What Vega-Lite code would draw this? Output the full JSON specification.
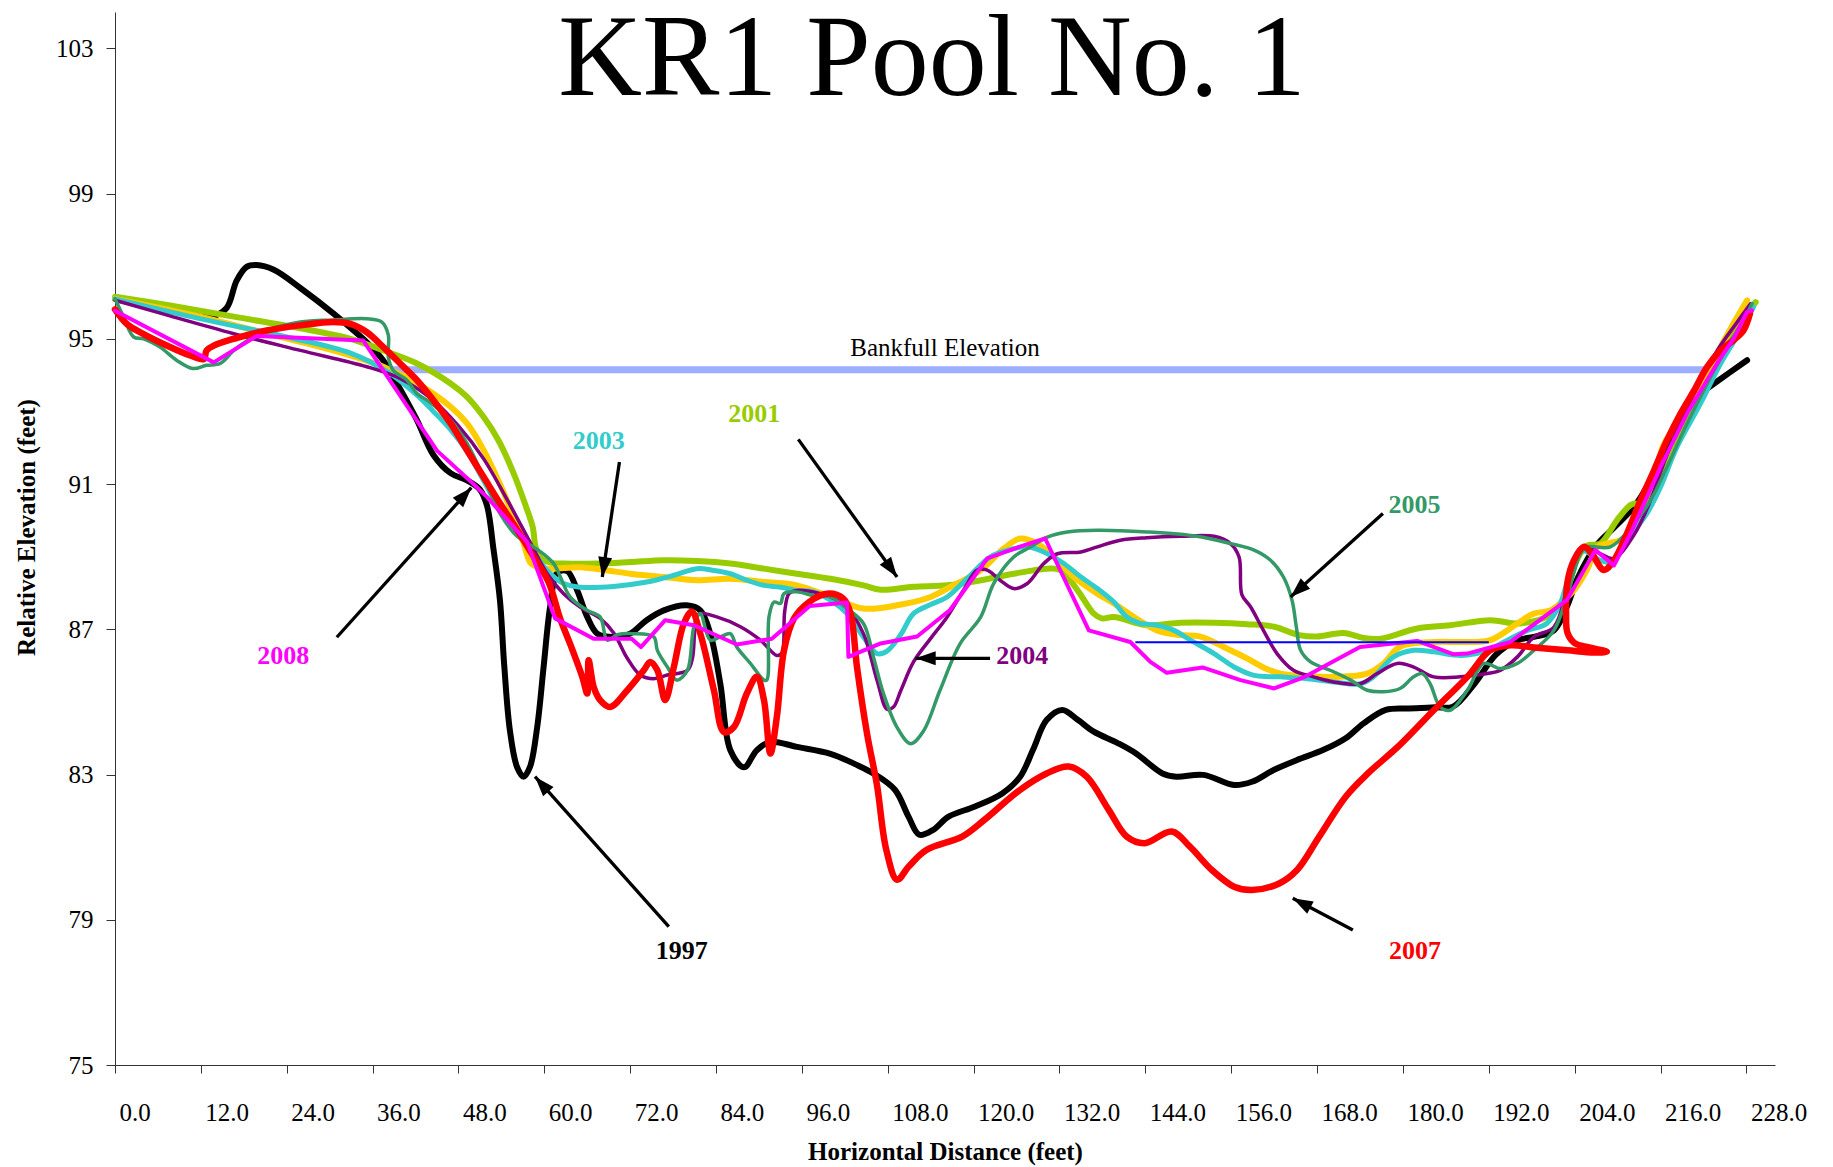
{
"$schema":"https://vega.github.io/schema/vega-lite/v6.json",
"autosize":{"type":"none"},
"padding":{"left":115,"top":12,"right":58,"bottom":102},
"width":1660,"height":1053,
"background":"white",
"config":{"view":{"stroke":null},"axis":{"grid":false}},
"title":{"text":"KR1 Pool No. 1","font":"Liberation Serif","fontSize":116,"fontWeight":"normal","color":"#000000","anchor":"middle","frame":"group","offset":-107,"dx":-13,"baseline":"top"},
"datasets":{
"lines":[
{"s":"bank","i":0,"x":38,"y":94.15},{"s":"bank","i":1,"x":222.5,"y":94.15},
{"s":"blue","i":0,"x":142.6,"y":86.64},{"s":"blue","i":1,"x":192.0,"y":86.64},
{"s":"1997","i":0,"x":0,"y":96.1},{"s":"1997","i":1,"x":7,"y":95.8},{"s":"1997","i":2,"x":13.5,"y":95.62},{"s":"1997","i":3,"x":15.6,"y":95.85},{"s":"1997","i":4,"x":17,"y":96.6},{"s":"1997","i":5,"x":18.4,"y":96.98},{"s":"1997","i":6,"x":19.8,"y":97.03},{"s":"1997","i":7,"x":22.2,"y":96.9},{"s":"1997","i":8,"x":25.9,"y":96.4},{"s":"1997","i":9,"x":30.5,"y":95.7},{"s":"1997","i":10,"x":35.2,"y":94.9},{"s":"1997","i":11,"x":37.5,"y":94.4},{"s":"1997","i":12,"x":39.9,"y":93.6},{"s":"1997","i":13,"x":42.2,"y":92.76},{"s":"1997","i":14,"x":44.5,"y":91.8},{"s":"1997","i":15,"x":46.9,"y":91.3},{"s":"1997","i":16,"x":49.2,"y":91.1},{"s":"1997","i":17,"x":51,"y":90.85},{"s":"1997","i":18,"x":52,"y":90.4},{"s":"1997","i":19,"x":52.9,"y":89.2},{"s":"1997","i":20,"x":53.8,"y":87.8},{"s":"1997","i":21,"x":54.4,"y":86.0},{"s":"1997","i":22,"x":55.2,"y":84.2},{"s":"1997","i":23,"x":56.2,"y":83.2},{"s":"1997","i":24,"x":57.1,"y":82.94},{"s":"1997","i":25,"x":58,"y":83.21},{"s":"1997","i":26,"x":59,"y":84.3},{"s":"1997","i":27,"x":59.9,"y":85.96},{"s":"1997","i":28,"x":60.8,"y":87.6},{"s":"1997","i":29,"x":61.8,"y":88.55},{"s":"1997","i":30,"x":63.2,"y":88.6},{"s":"1997","i":31,"x":64.6,"y":88.07},{"s":"1997","i":32,"x":66,"y":87.34},{"s":"1997","i":33,"x":67.4,"y":86.88},{"s":"1997","i":34,"x":69.7,"y":86.79},{"s":"1997","i":35,"x":72,"y":86.88},{"s":"1997","i":36,"x":74.3,"y":87.25},{"s":"1997","i":37,"x":76.7,"y":87.52},{"s":"1997","i":38,"x":79.9,"y":87.66},{"s":"1997","i":39,"x":81.8,"y":87.52},{"s":"1997","i":40,"x":83.2,"y":86.88},{"s":"1997","i":41,"x":84.6,"y":85.5},{"s":"1997","i":42,"x":86,"y":83.67},{"s":"1997","i":43,"x":87.9,"y":83.2},{"s":"1997","i":44,"x":89.7,"y":83.67},{"s":"1997","i":45,"x":91.6,"y":83.9},{"s":"1997","i":46,"x":95.3,"y":83.76},{"s":"1997","i":47,"x":100,"y":83.57},{"s":"1997","i":48,"x":103.5,"y":83.28},{"s":"1997","i":49,"x":106,"y":83.03},{"s":"1997","i":50,"x":109,"y":82.58},{"s":"1997","i":51,"x":110.9,"y":81.84},{"s":"1997","i":52,"x":112.4,"y":81.34},{"s":"1997","i":53,"x":114.3,"y":81.47},{"s":"1997","i":54,"x":116.5,"y":81.84},{"s":"1997","i":55,"x":120.2,"y":82.12},{"s":"1997","i":56,"x":124,"y":82.48},{"s":"1997","i":57,"x":126.5,"y":82.94},{"s":"1997","i":58,"x":128.3,"y":83.68},{"s":"1997","i":59,"x":130.2,"y":84.5},{"s":"1997","i":60,"x":132.4,"y":84.78},{"s":"1997","i":61,"x":134.6,"y":84.5},{"s":"1997","i":62,"x":136.8,"y":84.18},{"s":"1997","i":63,"x":140.2,"y":83.86},{"s":"1997","i":64,"x":142.7,"y":83.58},{"s":"1997","i":65,"x":146.4,"y":83.03},{"s":"1997","i":66,"x":148.3,"y":82.94},{"s":"1997","i":67,"x":152.1,"y":82.99},{"s":"1997","i":68,"x":156.4,"y":82.71},{"s":"1997","i":69,"x":158.9,"y":82.8},{"s":"1997","i":70,"x":162,"y":83.13},{"s":"1997","i":71,"x":165.2,"y":83.4},{"s":"1997","i":72,"x":168.9,"y":83.68},{"s":"1997","i":73,"x":172,"y":84.0},{"s":"1997","i":74,"x":174.5,"y":84.41},{"s":"1997","i":75,"x":177.6,"y":84.78},{"s":"1997","i":76,"x":180.8,"y":84.82},{"s":"1997","i":77,"x":184.5,"y":84.85},{"s":"1997","i":78,"x":187,"y":84.87},{"s":"1997","i":79,"x":190,"y":85.5},{"s":"1997","i":80,"x":193,"y":86.3},{"s":"1997","i":81,"x":196,"y":86.7},{"s":"1997","i":82,"x":198.3,"y":86.79},{"s":"1997","i":83,"x":201.1,"y":86.97},{"s":"1997","i":84,"x":202.9,"y":87.62},{"s":"1997","i":85,"x":204.4,"y":88.4},{"s":"1997","i":86,"x":207,"y":89.3},{"s":"1997","i":87,"x":209.5,"y":89.8},{"s":"1997","i":88,"x":212.3,"y":90.37},{"s":"1997","i":89,"x":214.1,"y":90.92},{"s":"1997","i":90,"x":216,"y":91.65},{"s":"1997","i":91,"x":217.9,"y":92.48},{"s":"1997","i":92,"x":219.7,"y":93.22},{"s":"1997","i":93,"x":221.6,"y":93.5},{"s":"1997","i":94,"x":223.5,"y":93.77},{"s":"1997","i":95,"x":228.1,"y":94.41},
{"s":"2001","i":0,"x":0,"y":96.16},{"s":"2001","i":1,"x":7.3,"y":95.93},{"s":"2001","i":2,"x":16.6,"y":95.61},{"s":"2001","i":3,"x":25.9,"y":95.29},{"s":"2001","i":4,"x":32.9,"y":95.0},{"s":"2001","i":5,"x":37.5,"y":94.68},{"s":"2001","i":6,"x":42.2,"y":94.32},{"s":"2001","i":7,"x":46.9,"y":93.77},{"s":"2001","i":8,"x":49.2,"y":93.4},{"s":"2001","i":9,"x":51.5,"y":92.85},{"s":"2001","i":10,"x":53.6,"y":92.2},{"s":"2001","i":11,"x":55.7,"y":91.3},{"s":"2001","i":12,"x":57.4,"y":90.4},{"s":"2001","i":13,"x":58.4,"y":89.8},{"s":"2001","i":14,"x":58.8,"y":89.25},{"s":"2001","i":15,"x":59.6,"y":88.95},{"s":"2001","i":16,"x":61,"y":88.83},{"s":"2001","i":17,"x":62.7,"y":88.81},{"s":"2001","i":18,"x":67.4,"y":88.81},{"s":"2001","i":19,"x":72,"y":88.85},{"s":"2001","i":20,"x":76.7,"y":88.9},{"s":"2001","i":21,"x":81.3,"y":88.88},{"s":"2001","i":22,"x":86,"y":88.81},{"s":"2001","i":23,"x":90.7,"y":88.67},{"s":"2001","i":24,"x":95.3,"y":88.53},{"s":"2001","i":25,"x":100,"y":88.39},{"s":"2001","i":26,"x":104.6,"y":88.21},{"s":"2001","i":27,"x":107,"y":88.09},{"s":"2001","i":28,"x":111.6,"y":88.17},{"s":"2001","i":29,"x":116.3,"y":88.21},{"s":"2001","i":30,"x":121,"y":88.35},{"s":"2001","i":31,"x":125.6,"y":88.53},{"s":"2001","i":32,"x":130.3,"y":88.67},{"s":"2001","i":33,"x":132.1,"y":88.63},{"s":"2001","i":34,"x":134.5,"y":88.08},{"s":"2001","i":35,"x":136.8,"y":87.43},{"s":"2001","i":36,"x":137.9,"y":87.3},{"s":"2001","i":37,"x":139.6,"y":87.34},{"s":"2001","i":38,"x":144.2,"y":87.11},{"s":"2001","i":39,"x":148.9,"y":87.18},{"s":"2001","i":40,"x":153.6,"y":87.18},{"s":"2001","i":41,"x":158.2,"y":87.14},{"s":"2001","i":42,"x":162,"y":87.07},{"s":"2001","i":43,"x":165.5,"y":86.84},{"s":"2001","i":44,"x":168,"y":86.8},{"s":"2001","i":45,"x":171.7,"y":86.9},{"s":"2001","i":46,"x":174.5,"y":86.76},{"s":"2001","i":47,"x":176.9,"y":86.74},{"s":"2001","i":48,"x":182,"y":87.02},{"s":"2001","i":49,"x":186.6,"y":87.11},{"s":"2001","i":50,"x":192.2,"y":87.25},{"s":"2001","i":51,"x":196.4,"y":87.16},{"s":"2001","i":52,"x":200.6,"y":87.4},{"s":"2001","i":53,"x":202.3,"y":87.8},{"s":"2001","i":54,"x":204.3,"y":88.9},{"s":"2001","i":55,"x":205.7,"y":89.3},{"s":"2001","i":56,"x":207.6,"y":89.36},{"s":"2001","i":57,"x":209.9,"y":90.0},{"s":"2001","i":58,"x":211.8,"y":90.42},{"s":"2001","i":59,"x":212.6,"y":90.46},{"s":"2001","i":60,"x":213.4,"y":90.25},{"s":"2001","i":61,"x":215.5,"y":90.92},{"s":"2001","i":62,"x":217.9,"y":91.93},{"s":"2001","i":63,"x":220.7,"y":93.12},{"s":"2001","i":64,"x":223.5,"y":94.22},{"s":"2001","i":65,"x":226.2,"y":95.14},{"s":"2001","i":66,"x":228.1,"y":95.69},{"s":"2001","i":67,"x":229.3,"y":96.01},
{"s":"2002","i":0,"x":0,"y":96.1},{"s":"2002","i":1,"x":11.9,"y":95.61},{"s":"2002","i":2,"x":21.2,"y":95.14},{"s":"2002","i":3,"x":30.5,"y":94.68},{"s":"2002","i":4,"x":37.5,"y":94.23},{"s":"2002","i":5,"x":42.2,"y":93.77},{"s":"2002","i":6,"x":46.9,"y":93.13},{"s":"2002","i":7,"x":49.2,"y":92.67},{"s":"2002","i":8,"x":51.5,"y":91.94},{"s":"2002","i":9,"x":53.8,"y":91.0},{"s":"2002","i":10,"x":55.7,"y":90.1},{"s":"2002","i":11,"x":57.1,"y":89.38},{"s":"2002","i":12,"x":58.2,"y":88.8},{"s":"2002","i":13,"x":60.4,"y":88.67},{"s":"2002","i":14,"x":65,"y":88.71},{"s":"2002","i":15,"x":68.8,"y":88.62},{"s":"2002","i":16,"x":72,"y":88.53},{"s":"2002","i":17,"x":76.7,"y":88.44},{"s":"2002","i":18,"x":81.3,"y":88.35},{"s":"2002","i":19,"x":86,"y":88.39},{"s":"2002","i":20,"x":90.7,"y":88.3},{"s":"2002","i":21,"x":95.3,"y":88.21},{"s":"2002","i":22,"x":100,"y":87.89},{"s":"2002","i":23,"x":104.6,"y":87.57},{"s":"2002","i":24,"x":109.3,"y":87.66},{"s":"2002","i":25,"x":114,"y":87.89},{"s":"2002","i":26,"x":116.3,"y":88.12},{"s":"2002","i":27,"x":121,"y":88.63},{"s":"2002","i":28,"x":124.2,"y":89.22},{"s":"2002","i":29,"x":126.5,"y":89.5},{"s":"2002","i":30,"x":128.9,"y":89.36},{"s":"2002","i":31,"x":131.7,"y":88.9},{"s":"2002","i":32,"x":134,"y":88.44},{"s":"2002","i":33,"x":137.3,"y":87.98},{"s":"2002","i":34,"x":139.6,"y":87.71},{"s":"2002","i":35,"x":142.4,"y":87.34},{"s":"2002","i":36,"x":145.6,"y":86.97},{"s":"2002","i":37,"x":148.9,"y":86.84},{"s":"2002","i":38,"x":151.7,"y":86.8},{"s":"2002","i":39,"x":155.9,"y":86.42},{"s":"2002","i":40,"x":158.2,"y":86.2},{"s":"2002","i":41,"x":160.5,"y":85.95},{"s":"2002","i":42,"x":162.9,"y":85.78},{"s":"2002","i":43,"x":167.5,"y":85.7},{"s":"2002","i":44,"x":170.3,"y":85.69},{"s":"2002","i":45,"x":175,"y":85.78},{"s":"2002","i":46,"x":177.3,"y":86.06},{"s":"2002","i":47,"x":179.6,"y":86.52},{"s":"2002","i":48,"x":184.3,"y":86.65},{"s":"2002","i":49,"x":189,"y":86.65},{"s":"2002","i":50,"x":192.2,"y":86.7},{"s":"2002","i":51,"x":196,"y":87.16},{"s":"2002","i":52,"x":198.3,"y":87.43},{"s":"2002","i":53,"x":200.6,"y":87.52},{"s":"2002","i":54,"x":202.5,"y":87.8},{"s":"2002","i":55,"x":204,"y":88.1},{"s":"2002","i":56,"x":205.7,"y":88.63},{"s":"2002","i":57,"x":207.2,"y":89.27},{"s":"2002","i":58,"x":208.5,"y":89.36},{"s":"2002","i":59,"x":210.4,"y":89.45},{"s":"2002","i":60,"x":211.8,"y":89.63},{"s":"2002","i":61,"x":213.2,"y":90.37},{"s":"2002","i":62,"x":215.1,"y":91.2},{"s":"2002","i":63,"x":216.5,"y":92.11},{"s":"2002","i":64,"x":218.8,"y":92.76},{"s":"2002","i":65,"x":221.6,"y":93.76},{"s":"2002","i":66,"x":223.9,"y":94.59},{"s":"2002","i":67,"x":226.2,"y":95.42},{"s":"2002","i":68,"x":228.1,"y":96.06},
{"s":"2003","i":0,"x":0,"y":96.1},{"s":"2003","i":1,"x":12,"y":95.55},{"s":"2003","i":2,"x":24,"y":95.05},{"s":"2003","i":3,"x":33,"y":94.6},{"s":"2003","i":4,"x":38,"y":94.1},{"s":"2003","i":5,"x":42.2,"y":93.45},{"s":"2003","i":6,"x":44.5,"y":93.0},{"s":"2003","i":7,"x":46.9,"y":92.5},{"s":"2003","i":8,"x":49.2,"y":91.9},{"s":"2003","i":9,"x":51.5,"y":91.1},{"s":"2003","i":10,"x":53.8,"y":90.3},{"s":"2003","i":11,"x":56.2,"y":89.7},{"s":"2003","i":12,"x":58,"y":89.27},{"s":"2003","i":13,"x":60.4,"y":88.62},{"s":"2003","i":14,"x":62.7,"y":88.26},{"s":"2003","i":15,"x":65,"y":88.16},{"s":"2003","i":16,"x":69.7,"y":88.18},{"s":"2003","i":17,"x":74.3,"y":88.3},{"s":"2003","i":18,"x":78,"y":88.48},{"s":"2003","i":19,"x":81.3,"y":88.67},{"s":"2003","i":20,"x":83.7,"y":88.62},{"s":"2003","i":21,"x":86,"y":88.53},{"s":"2003","i":22,"x":88.3,"y":88.35},{"s":"2003","i":23,"x":90.7,"y":88.21},{"s":"2003","i":24,"x":93,"y":88.16},{"s":"2003","i":25,"x":95.3,"y":88.07},{"s":"2003","i":26,"x":97.6,"y":88.03},{"s":"2003","i":27,"x":100,"y":87.8},{"s":"2003","i":28,"x":102.3,"y":87.43},{"s":"2003","i":29,"x":104.6,"y":86.79},{"s":"2003","i":30,"x":106.5,"y":86.33},{"s":"2003","i":31,"x":107.9,"y":86.4},{"s":"2003","i":32,"x":109.8,"y":86.85},{"s":"2003","i":33,"x":111.6,"y":87.43},{"s":"2003","i":34,"x":114,"y":87.68},{"s":"2003","i":35,"x":116.3,"y":87.89},{"s":"2003","i":36,"x":119.1,"y":88.4},{"s":"2003","i":37,"x":122.3,"y":88.99},{"s":"2003","i":38,"x":125.6,"y":89.22},{"s":"2003","i":39,"x":127.5,"y":89.27},{"s":"2003","i":40,"x":129.8,"y":89.13},{"s":"2003","i":41,"x":132.6,"y":88.81},{"s":"2003","i":42,"x":135,"y":88.44},{"s":"2003","i":43,"x":137.3,"y":88.12},{"s":"2003","i":44,"x":139.6,"y":87.75},{"s":"2003","i":45,"x":141.4,"y":87.34},{"s":"2003","i":46,"x":143.3,"y":87.16},{"s":"2003","i":47,"x":145.6,"y":87.11},{"s":"2003","i":48,"x":148,"y":86.97},{"s":"2003","i":49,"x":150.3,"y":86.7},{"s":"2003","i":50,"x":153.6,"y":86.33},{"s":"2003","i":51,"x":156.4,"y":85.96},{"s":"2003","i":52,"x":159.2,"y":85.73},{"s":"2003","i":53,"x":162.9,"y":85.69},{"s":"2003","i":54,"x":166.6,"y":85.64},{"s":"2003","i":55,"x":170.3,"y":85.55},{"s":"2003","i":56,"x":174.1,"y":85.5},{"s":"2003","i":57,"x":175.9,"y":85.69},{"s":"2003","i":58,"x":178.7,"y":86.24},{"s":"2003","i":59,"x":181.5,"y":86.42},{"s":"2003","i":60,"x":184.3,"y":86.38},{"s":"2003","i":61,"x":187.1,"y":86.29},{"s":"2003","i":62,"x":189,"y":86.29},{"s":"2003","i":63,"x":191.8,"y":86.42},{"s":"2003","i":64,"x":194.6,"y":86.7},{"s":"2003","i":65,"x":197.4,"y":86.97},{"s":"2003","i":66,"x":200.1,"y":87.16},{"s":"2003","i":67,"x":202,"y":87.71},{"s":"2003","i":68,"x":202.9,"y":88.26},{"s":"2003","i":69,"x":204.8,"y":89.18},{"s":"2003","i":70,"x":207.6,"y":88.9},{"s":"2003","i":71,"x":209.3,"y":88.85},{"s":"2003","i":72,"x":211.3,"y":89.45},{"s":"2003","i":73,"x":214.1,"y":90.19},{"s":"2003","i":74,"x":216,"y":90.92},{"s":"2003","i":75,"x":218.3,"y":92.02},{"s":"2003","i":76,"x":221.6,"y":93.22},{"s":"2003","i":77,"x":224.4,"y":94.32},{"s":"2003","i":78,"x":227.2,"y":95.23},{"s":"2003","i":79,"x":229,"y":95.88},
{"s":"2004","i":0,"x":0,"y":96.06},{"s":"2004","i":1,"x":7.3,"y":95.65},{"s":"2004","i":2,"x":16.6,"y":95.14},{"s":"2004","i":3,"x":25.9,"y":94.68},{"s":"2004","i":4,"x":35.2,"y":94.23},{"s":"2004","i":5,"x":39.9,"y":93.9},{"s":"2004","i":6,"x":44.5,"y":93.3},{"s":"2004","i":7,"x":48,"y":92.6},{"s":"2004","i":8,"x":51.5,"y":91.7},{"s":"2004","i":9,"x":55,"y":90.5},{"s":"2004","i":10,"x":58,"y":89.4},{"s":"2004","i":11,"x":60.5,"y":88.5},{"s":"2004","i":12,"x":62.7,"y":87.98},{"s":"2004","i":13,"x":65,"y":87.61},{"s":"2004","i":14,"x":67.8,"y":87.3},{"s":"2004","i":15,"x":69.7,"y":86.9},{"s":"2004","i":16,"x":71.6,"y":86.2},{"s":"2004","i":17,"x":73.4,"y":85.74},{"s":"2004","i":18,"x":75.3,"y":85.64},{"s":"2004","i":19,"x":77.2,"y":85.74},{"s":"2004","i":20,"x":80,"y":85.87},{"s":"2004","i":21,"x":80.7,"y":86.2},{"s":"2004","i":22,"x":81.1,"y":87.1},{"s":"2004","i":23,"x":81.6,"y":87.43},{"s":"2004","i":24,"x":84.1,"y":87.34},{"s":"2004","i":25,"x":87.4,"y":87.07},{"s":"2004","i":26,"x":90.2,"y":86.7},{"s":"2004","i":27,"x":92.5,"y":86.28},{"s":"2004","i":28,"x":93.2,"y":86.35},{"s":"2004","i":29,"x":93.6,"y":87.5},{"s":"2004","i":30,"x":94.2,"y":87.98},{"s":"2004","i":31,"x":95.3,"y":88.07},{"s":"2004","i":32,"x":97.6,"y":88.03},{"s":"2004","i":33,"x":100,"y":87.89},{"s":"2004","i":34,"x":102.3,"y":87.61},{"s":"2004","i":35,"x":104.6,"y":86.88},{"s":"2004","i":36,"x":106.5,"y":85.6},{"s":"2004","i":37,"x":107.9,"y":84.8},{"s":"2004","i":38,"x":108.8,"y":84.86},{"s":"2004","i":39,"x":109.8,"y":85.3},{"s":"2004","i":40,"x":111.6,"y":86.1},{"s":"2004","i":41,"x":114,"y":86.75},{"s":"2004","i":42,"x":116.3,"y":87.34},{"s":"2004","i":43,"x":118.6,"y":88.08},{"s":"2004","i":44,"x":120.5,"y":88.63},{"s":"2004","i":45,"x":121.9,"y":88.63},{"s":"2004","i":46,"x":123.7,"y":88.35},{"s":"2004","i":47,"x":125.6,"y":88.12},{"s":"2004","i":48,"x":127.5,"y":88.26},{"s":"2004","i":49,"x":129.8,"y":88.81},{"s":"2004","i":50,"x":131.7,"y":89.08},{"s":"2004","i":51,"x":135,"y":89.13},{"s":"2004","i":52,"x":137.3,"y":89.27},{"s":"2004","i":53,"x":140.5,"y":89.45},{"s":"2004","i":54,"x":144.2,"y":89.52},{"s":"2004","i":55,"x":148.9,"y":89.56},{"s":"2004","i":56,"x":153.6,"y":89.56},{"s":"2004","i":57,"x":155.9,"y":89.36},{"s":"2004","i":58,"x":157.1,"y":88.99},{"s":"2004","i":59,"x":157.5,"y":87.95},{"s":"2004","i":60,"x":158.7,"y":87.62},{"s":"2004","i":61,"x":160.5,"y":86.97},{"s":"2004","i":62,"x":162.4,"y":86.33},{"s":"2004","i":63,"x":164.7,"y":85.87},{"s":"2004","i":64,"x":167.5,"y":85.69},{"s":"2004","i":65,"x":170.3,"y":85.55},{"s":"2004","i":66,"x":174,"y":85.5},{"s":"2004","i":67,"x":176.4,"y":85.78},{"s":"2004","i":68,"x":179.2,"y":86.06},{"s":"2004","i":69,"x":181.5,"y":85.96},{"s":"2004","i":70,"x":184.3,"y":85.69},{"s":"2004","i":71,"x":188,"y":85.69},{"s":"2004","i":72,"x":191.8,"y":85.78},{"s":"2004","i":73,"x":193.6,"y":85.87},{"s":"2004","i":74,"x":196,"y":86.24},{"s":"2004","i":75,"x":198.3,"y":86.79},{"s":"2004","i":76,"x":201.1,"y":87.06},{"s":"2004","i":77,"x":202.9,"y":88.08},{"s":"2004","i":78,"x":204.3,"y":89.08},{"s":"2004","i":79,"x":205.5,"y":89.27},{"s":"2004","i":80,"x":207.6,"y":89.08},{"s":"2004","i":81,"x":209.5,"y":88.95},{"s":"2004","i":82,"x":212.3,"y":89.6},{"s":"2004","i":83,"x":214.5,"y":90.5},{"s":"2004","i":84,"x":216.5,"y":91.6},{"s":"2004","i":85,"x":219,"y":92.8},{"s":"2004","i":86,"x":221.5,"y":93.8},{"s":"2004","i":87,"x":224,"y":94.7},{"s":"2004","i":88,"x":226.5,"y":95.4},{"s":"2004","i":89,"x":228.6,"y":95.97},
{"s":"2005","i":0,"x":0,"y":96.1},{"s":"2005","i":1,"x":1.2,"y":95.6},{"s":"2005","i":2,"x":2.6,"y":95.05},{"s":"2005","i":3,"x":4,"y":95.0},{"s":"2005","i":4,"x":6.3,"y":94.77},{"s":"2005","i":5,"x":8.6,"y":94.41},{"s":"2005","i":6,"x":10.9,"y":94.18},{"s":"2005","i":7,"x":12.8,"y":94.27},{"s":"2005","i":8,"x":14.7,"y":94.32},{"s":"2005","i":9,"x":16.6,"y":94.68},{"s":"2005","i":10,"x":18.9,"y":95.0},{"s":"2005","i":11,"x":21.2,"y":95.23},{"s":"2005","i":12,"x":25.9,"y":95.46},{"s":"2005","i":13,"x":30.5,"y":95.52},{"s":"2005","i":14,"x":35.2,"y":95.55},{"s":"2005","i":15,"x":37.3,"y":95.46},{"s":"2005","i":16,"x":38.2,"y":95.1},{"s":"2005","i":17,"x":38.2,"y":94.5},{"s":"2005","i":18,"x":38.9,"y":94.13},{"s":"2005","i":19,"x":40.8,"y":93.86},{"s":"2005","i":20,"x":42.2,"y":93.49},{"s":"2005","i":21,"x":43.6,"y":93.31},{"s":"2005","i":22,"x":46.9,"y":92.76},{"s":"2005","i":23,"x":49.2,"y":92.12},{"s":"2005","i":24,"x":51.5,"y":91.2},{"s":"2005","i":25,"x":53.8,"y":90.19},{"s":"2005","i":26,"x":56.2,"y":89.56},{"s":"2005","i":27,"x":59,"y":89.2},{"s":"2005","i":28,"x":61.3,"y":88.81},{"s":"2005","i":29,"x":63.6,"y":87.89},{"s":"2005","i":30,"x":66,"y":87.52},{"s":"2005","i":31,"x":67.8,"y":87.34},{"s":"2005","i":32,"x":68.8,"y":86.7},{"s":"2005","i":33,"x":70.2,"y":86.85},{"s":"2005","i":34,"x":72.5,"y":86.88},{"s":"2005","i":35,"x":75.3,"y":86.79},{"s":"2005","i":36,"x":75.8,"y":86.42},{"s":"2005","i":37,"x":77.2,"y":85.96},{"s":"2005","i":38,"x":78.5,"y":85.6},{"s":"2005","i":39,"x":80,"y":85.87},{"s":"2005","i":40,"x":80.9,"y":87.07},{"s":"2005","i":41,"x":81.8,"y":87.43},{"s":"2005","i":42,"x":83.2,"y":86.7},{"s":"2005","i":43,"x":84.6,"y":86.79},{"s":"2005","i":44,"x":86,"y":86.88},{"s":"2005","i":45,"x":86.9,"y":86.51},{"s":"2005","i":46,"x":88.8,"y":86.06},{"s":"2005","i":47,"x":90.7,"y":85.6},{"s":"2005","i":48,"x":91.1,"y":85.6},{"s":"2005","i":49,"x":91.4,"y":87.34},{"s":"2005","i":50,"x":92.1,"y":87.75},{"s":"2005","i":51,"x":93,"y":87.71},{"s":"2005","i":52,"x":93.5,"y":87.98},{"s":"2005","i":53,"x":95.3,"y":88.03},{"s":"2005","i":54,"x":97.6,"y":87.93},{"s":"2005","i":55,"x":100,"y":87.89},{"s":"2005","i":56,"x":102.3,"y":87.57},{"s":"2005","i":57,"x":104.6,"y":87.16},{"s":"2005","i":58,"x":106,"y":86.24},{"s":"2005","i":59,"x":107.4,"y":85.23},{"s":"2005","i":60,"x":109.3,"y":84.3},{"s":"2005","i":61,"x":111.2,"y":83.85},{"s":"2005","i":62,"x":113,"y":84.2},{"s":"2005","i":63,"x":115.3,"y":85.32},{"s":"2005","i":64,"x":118.1,"y":86.6},{"s":"2005","i":65,"x":121,"y":87.34},{"s":"2005","i":66,"x":122.8,"y":88.26},{"s":"2005","i":67,"x":125.6,"y":88.99},{"s":"2005","i":68,"x":128,"y":89.27},{"s":"2005","i":69,"x":130.3,"y":89.54},{"s":"2005","i":70,"x":133.1,"y":89.68},{"s":"2005","i":71,"x":137.3,"y":89.73},{"s":"2005","i":72,"x":144.2,"y":89.68},{"s":"2005","i":73,"x":151.2,"y":89.56},{"s":"2005","i":74,"x":155.9,"y":89.36},{"s":"2005","i":75,"x":159.2,"y":89.18},{"s":"2005","i":76,"x":161.5,"y":88.9},{"s":"2005","i":77,"x":163.3,"y":88.44},{"s":"2005","i":78,"x":164.5,"y":87.8},{"s":"2005","i":79,"x":165.1,"y":87.07},{"s":"2005","i":80,"x":165.7,"y":86.42},{"s":"2005","i":81,"x":167.1,"y":86.1},{"s":"2005","i":82,"x":170.3,"y":85.83},{"s":"2005","i":83,"x":172.7,"y":85.6},{"s":"2005","i":84,"x":175,"y":85.32},{"s":"2005","i":85,"x":177.3,"y":85.28},{"s":"2005","i":86,"x":179.6,"y":85.37},{"s":"2005","i":87,"x":181.5,"y":85.69},{"s":"2005","i":88,"x":182.7,"y":85.78},{"s":"2005","i":89,"x":183.8,"y":85.5},{"s":"2005","i":90,"x":185.2,"y":84.86},{"s":"2005","i":91,"x":186.6,"y":84.77},{"s":"2005","i":92,"x":189,"y":85.32},{"s":"2005","i":93,"x":191.3,"y":86.06},{"s":"2005","i":94,"x":193.6,"y":85.92},{"s":"2005","i":95,"x":196,"y":86.06},{"s":"2005","i":96,"x":198.3,"y":86.42},{"s":"2005","i":97,"x":201.1,"y":86.97},{"s":"2005","i":98,"x":202.9,"y":87.89},{"s":"2005","i":99,"x":204.8,"y":89.08},{"s":"2005","i":100,"x":205.7,"y":89.27},{"s":"2005","i":101,"x":209,"y":89.27},{"s":"2005","i":102,"x":212.3,"y":89.91},{"s":"2005","i":103,"x":214.6,"y":90.55},{"s":"2005","i":104,"x":216.9,"y":91.47},{"s":"2005","i":105,"x":219.7,"y":92.66},{"s":"2005","i":106,"x":222.5,"y":93.76},{"s":"2005","i":107,"x":225.3,"y":94.77},{"s":"2005","i":108,"x":227.6,"y":95.51},{"s":"2005","i":109,"x":228.8,"y":95.97},
{"s":"2007","i":0,"x":0,"y":95.81},{"s":"2007","i":1,"x":1.7,"y":95.4},{"s":"2007","i":2,"x":4,"y":95.13},{"s":"2007","i":3,"x":7.3,"y":94.81},{"s":"2007","i":4,"x":10.5,"y":94.54},{"s":"2007","i":5,"x":12.4,"y":94.44},{"s":"2007","i":6,"x":12.8,"y":94.68},{"s":"2007","i":7,"x":13.8,"y":94.81},{"s":"2007","i":8,"x":16.6,"y":95.0},{"s":"2007","i":9,"x":21.2,"y":95.23},{"s":"2007","i":10,"x":25.9,"y":95.37},{"s":"2007","i":11,"x":30.5,"y":95.46},{"s":"2007","i":12,"x":32.9,"y":95.41},{"s":"2007","i":13,"x":35.2,"y":95.18},{"s":"2007","i":14,"x":37.5,"y":94.77},{"s":"2007","i":15,"x":39.9,"y":94.31},{"s":"2007","i":16,"x":42.2,"y":93.86},{"s":"2007","i":17,"x":44.5,"y":93.31},{"s":"2007","i":18,"x":46.9,"y":92.67},{"s":"2007","i":19,"x":49.2,"y":91.93},{"s":"2007","i":20,"x":51.5,"y":91.2},{"s":"2007","i":21,"x":53.8,"y":90.47},{"s":"2007","i":22,"x":56.2,"y":89.74},{"s":"2007","i":23,"x":58.5,"y":89.0},{"s":"2007","i":24,"x":60.6,"y":88.3},{"s":"2007","i":25,"x":62.2,"y":87.3},{"s":"2007","i":26,"x":63.6,"y":86.6},{"s":"2007","i":27,"x":65.3,"y":85.69},{"s":"2007","i":28,"x":66,"y":85.23},{"s":"2007","i":29,"x":66.2,"y":86.15},{"s":"2007","i":30,"x":66.9,"y":85.41},{"s":"2007","i":31,"x":67.8,"y":85.05},{"s":"2007","i":32,"x":69.2,"y":84.86},{"s":"2007","i":33,"x":71.6,"y":85.32},{"s":"2007","i":34,"x":73.9,"y":85.87},{"s":"2007","i":35,"x":74.8,"y":86.1},{"s":"2007","i":36,"x":75.8,"y":85.87},{"s":"2007","i":37,"x":76.9,"y":85.05},{"s":"2007","i":38,"x":78.1,"y":85.96},{"s":"2007","i":39,"x":79.5,"y":87.16},{"s":"2007","i":40,"x":80.6,"y":87.48},{"s":"2007","i":41,"x":81.8,"y":86.88},{"s":"2007","i":42,"x":83.7,"y":85.32},{"s":"2007","i":43,"x":85.1,"y":84.17},{"s":"2007","i":44,"x":86.5,"y":84.31},{"s":"2007","i":45,"x":88.3,"y":85.23},{"s":"2007","i":46,"x":89.7,"y":85.69},{"s":"2007","i":47,"x":90.7,"y":85.05},{"s":"2007","i":48,"x":91.6,"y":83.58},{"s":"2007","i":49,"x":92.5,"y":84.59},{"s":"2007","i":50,"x":93.5,"y":86.42},{"s":"2007","i":51,"x":94.9,"y":87.3},{"s":"2007","i":52,"x":97,"y":87.75},{"s":"2007","i":53,"x":99.5,"y":87.98},{"s":"2007","i":54,"x":101.8,"y":87.84},{"s":"2007","i":55,"x":102.8,"y":87.43},{"s":"2007","i":56,"x":103.7,"y":85.96},{"s":"2007","i":57,"x":105.1,"y":84.13},{"s":"2007","i":58,"x":106.5,"y":82.7},{"s":"2007","i":59,"x":107.8,"y":80.92},{"s":"2007","i":60,"x":109.3,"y":80.1},{"s":"2007","i":61,"x":110.9,"y":80.46},{"s":"2007","i":62,"x":113.4,"y":80.92},{"s":"2007","i":63,"x":118.4,"y":81.29},{"s":"2007","i":64,"x":121.5,"y":81.75},{"s":"2007","i":65,"x":126.5,"y":82.58},{"s":"2007","i":66,"x":130.2,"y":83.03},{"s":"2007","i":67,"x":133.3,"y":83.22},{"s":"2007","i":68,"x":135.8,"y":82.94},{"s":"2007","i":69,"x":138.9,"y":82.02},{"s":"2007","i":70,"x":141.4,"y":81.29},{"s":"2007","i":71,"x":143.9,"y":81.11},{"s":"2007","i":72,"x":147.7,"y":81.43},{"s":"2007","i":73,"x":150.2,"y":81.02},{"s":"2007","i":74,"x":153.3,"y":80.37},{"s":"2007","i":75,"x":156.4,"y":79.91},{"s":"2007","i":76,"x":158.9,"y":79.82},{"s":"2007","i":77,"x":162.7,"y":80.0},{"s":"2007","i":78,"x":165.2,"y":80.37},{"s":"2007","i":79,"x":168.3,"y":81.29},{"s":"2007","i":80,"x":172,"y":82.39},{"s":"2007","i":81,"x":175.1,"y":83.03},{"s":"2007","i":82,"x":179.5,"y":83.8},{"s":"2007","i":83,"x":184.3,"y":84.77},{"s":"2007","i":84,"x":189,"y":85.69},{"s":"2007","i":85,"x":192.2,"y":86.42},{"s":"2007","i":86,"x":195,"y":86.56},{"s":"2007","i":87,"x":198.3,"y":86.5},{"s":"2007","i":88,"x":203,"y":86.42},{"s":"2007","i":89,"x":206.7,"y":86.36},{"s":"2007","i":90,"x":208.5,"y":86.38},{"s":"2007","i":91,"x":206,"y":86.5},{"s":"2007","i":92,"x":204,"y":86.62},{"s":"2007","i":93,"x":203,"y":86.9},{"s":"2007","i":94,"x":202.8,"y":87.43},{"s":"2007","i":95,"x":203,"y":88.3},{"s":"2007","i":96,"x":203.9,"y":88.9},{"s":"2007","i":97,"x":205.3,"y":89.27},{"s":"2007","i":98,"x":206.4,"y":89.08},{"s":"2007","i":99,"x":208.1,"y":88.63},{"s":"2007","i":100,"x":209.5,"y":88.9},{"s":"2007","i":101,"x":211.3,"y":89.63},{"s":"2007","i":102,"x":213.2,"y":90.55},{"s":"2007","i":103,"x":215.1,"y":91.38},{"s":"2007","i":104,"x":216.9,"y":92.2},{"s":"2007","i":105,"x":218.8,"y":92.94},{"s":"2007","i":106,"x":220.7,"y":93.58},{"s":"2007","i":107,"x":222.5,"y":94.22},{"s":"2007","i":108,"x":224.4,"y":94.68},{"s":"2007","i":109,"x":226.2,"y":94.96},{"s":"2007","i":110,"x":227.6,"y":95.23},{"s":"2007","i":111,"x":228.5,"y":95.69},
{"s":"2008","i":0,"x":0,"y":95.77},{"s":"2008","i":1,"x":13.8,"y":94.35},{"s":"2008","i":2,"x":19.8,"y":95.08},{"s":"2008","i":3,"x":34.7,"y":94.95},{"s":"2008","i":4,"x":45,"y":91.92},{"s":"2008","i":5,"x":50.1,"y":91.0},{"s":"2008","i":6,"x":52,"y":90.64},{"s":"2008","i":7,"x":57.6,"y":89.4},{"s":"2008","i":8,"x":61.5,"y":87.3},{"s":"2008","i":9,"x":66.9,"y":86.74},{"s":"2008","i":10,"x":72.2,"y":86.74},{"s":"2008","i":11,"x":73.5,"y":86.51},{"s":"2008","i":12,"x":76.9,"y":87.25},{"s":"2008","i":13,"x":80.9,"y":87.11},{"s":"2008","i":14,"x":86.9,"y":86.58},{"s":"2008","i":15,"x":91.8,"y":86.74},{"s":"2008","i":16,"x":97.1,"y":87.64},{"s":"2008","i":17,"x":102.3,"y":87.74},{"s":"2008","i":18,"x":102.5,"y":86.24},{"s":"2008","i":19,"x":107,"y":86.61},{"s":"2008","i":20,"x":112.1,"y":86.8},{"s":"2008","i":21,"x":116.7,"y":87.53},{"s":"2008","i":22,"x":121.9,"y":88.95},{"s":"2008","i":23,"x":127,"y":89.31},{"s":"2008","i":24,"x":130,"y":89.5},{"s":"2008","i":25,"x":136.1,"y":86.97},{"s":"2008","i":26,"x":141.9,"y":86.65},{"s":"2008","i":27,"x":144.7,"y":86.1},{"s":"2008","i":28,"x":147,"y":85.8},{"s":"2008","i":29,"x":152,"y":85.95},{"s":"2008","i":30,"x":157.3,"y":85.6},{"s":"2008","i":31,"x":162,"y":85.37},{"s":"2008","i":32,"x":166.3,"y":85.69},{"s":"2008","i":33,"x":174,"y":86.51},{"s":"2008","i":34,"x":182,"y":86.68},{"s":"2008","i":35,"x":187.1,"y":86.31},{"s":"2008","i":36,"x":189,"y":86.33},{"s":"2008","i":37,"x":195,"y":86.65},{"s":"2008","i":38,"x":202.9,"y":87.8},{"s":"2008","i":39,"x":206.9,"y":89.18},{"s":"2008","i":40,"x":209.5,"y":88.76},{"s":"2008","i":41,"x":211.8,"y":89.63},{"s":"2008","i":42,"x":216,"y":91.47},{"s":"2008","i":43,"x":219.7,"y":92.94},{"s":"2008","i":44,"x":223.9,"y":94.32},{"s":"2008","i":45,"x":226.2,"y":95.0},{"s":"2008","i":46,"x":228.1,"y":95.74},{"s":"2008","i":47,"x":228.8,"y":95.78}
],
"labels":[
{"s":"1997","x":79.2,"y":78.15},{"s":"2001","x":89.35,"y":92.92},{"s":"2003","x":67.6,"y":92.19},{"s":"2004","x":126.8,"y":86.27},{"s":"2005","x":181.6,"y":90.42},{"s":"2007","x":181.7,"y":78.15},{"s":"2008","x":23.5,"y":86.27}
],
"arrows":[
{"s":"2008","tx":31.0,"ty":86.78,"x":49.8,"y":90.9},
{"s":"2003","tx":70.5,"ty":91.61,"x":68.1,"y":88.44},
{"s":"2001","tx":95.5,"ty":92.23,"x":109.3,"y":88.44},
{"s":"2004","tx":122.3,"ty":86.2,"x":111.9,"y":86.2},
{"s":"2005","tx":177.2,"ty":90.19,"x":164.3,"y":87.89},
{"s":"1997","tx":77.4,"ty":78.81,"x":58.7,"y":82.94},
{"s":"2007","tx":173.0,"ty":78.72,"x":164.6,"y":79.59}
]
},
"encoding":{
"x":{"field":"x","type":"quantitative","scale":{"domain":[0,232],"zero":false,"nice":false},
 "axis":{"title":"Horizontal Distance (feet)","values":[0,12,24,36,48,60,72,84,96,108,120,132,144,156,168,180,192,204,216,228],"format":".1f","labelFont":"Liberation Serif","labelFontSize":25,"labelColor":"#000000","labelAlign":"left","labelOffset":4,"labelBaseline":"alphabetic","labelPadding":47,"labelFlush":false,"labelOverlap":false,"labelBound":false,"tickSize":8,"tickColor":"#333333","domainColor":"#333333","titleFont":"Liberation Serif","titleFontSize":25,"titleFontWeight":"bold","titleColor":"#000000","titleBaseline":"middle","titleY":86}},
"y":{"field":"y","type":"quantitative","scale":{"domain":[75,104],"zero":false,"nice":false},
 "axis":{"title":"Relative Elevation (feet)","values":[75,79,83,87,91,95,99,103],"format":"d","labelFont":"Liberation Serif","labelFontSize":25,"labelColor":"#000000","labelPadding":13,"labelBaseline":"middle","labelOverlap":false,"labelBound":false,"labelFlush":false,"tickSize":9,"tickColor":"#333333","domainColor":"#333333","titleFont":"Liberation Serif","titleFontSize":25,"titleFontWeight":"bold","titleColor":"#000000","titleBaseline":"middle","titleAlign":"center","titleAngle":-90,"titleX":-89,"titleY":515}}
},
"layer":[
{"data":{"name":"lines"},"transform":[{"filter":"datum.s==='bank'"}],"mark":{"type":"line","color":"#9DAEFF","strokeWidth":7,"strokeCap":"butt"},"encoding":{"order":{"field":"i","type":"quantitative"}}},
{"data":{"name":"lines"},"transform":[{"filter":"datum.s==='1997'"}],"mark":{"type":"line","color":"#000000","strokeWidth":6,"interpolate":"catmull-rom","strokeCap":"round","strokeJoin":"round"},"encoding":{"order":{"field":"i","type":"quantitative"}}},
{"data":{"name":"lines"},"transform":[{"filter":"datum.s==='2001'"}],"mark":{"type":"line","color":"#99CC00","strokeWidth":6,"interpolate":"catmull-rom","strokeCap":"round","strokeJoin":"round"},"encoding":{"order":{"field":"i","type":"quantitative"}}},
{"data":{"name":"lines"},"transform":[{"filter":"datum.s==='2002'"}],"mark":{"type":"line","color":"#FFCC00","strokeWidth":6,"interpolate":"catmull-rom","strokeCap":"round","strokeJoin":"round"},"encoding":{"order":{"field":"i","type":"quantitative"}}},
{"data":{"name":"lines"},"transform":[{"filter":"datum.s==='2003'"}],"mark":{"type":"line","color":"#33CCCC","strokeWidth":5,"interpolate":"catmull-rom","strokeCap":"round","strokeJoin":"round"},"encoding":{"order":{"field":"i","type":"quantitative"}}},
{"data":{"name":"lines"},"transform":[{"filter":"datum.s==='2004'"}],"mark":{"type":"line","color":"#800080","strokeWidth":3.5,"interpolate":"catmull-rom","strokeCap":"round","strokeJoin":"round"},"encoding":{"order":{"field":"i","type":"quantitative"}}},
{"data":{"name":"lines"},"transform":[{"filter":"datum.s==='2005'"}],"mark":{"type":"line","color":"#339966","strokeWidth":3.5,"interpolate":"catmull-rom","strokeCap":"round","strokeJoin":"round"},"encoding":{"order":{"field":"i","type":"quantitative"}}},
{"data":{"name":"lines"},"transform":[{"filter":"datum.s==='2007'"}],"mark":{"type":"line","color":"#FF0000","strokeWidth":6.5,"interpolate":"catmull-rom","strokeCap":"round","strokeJoin":"round"},"encoding":{"order":{"field":"i","type":"quantitative"}}},
{"data":{"name":"lines"},"transform":[{"filter":"datum.s==='2008'"}],"mark":{"type":"line","color":"#FF00FF","strokeWidth":4,"interpolate":"linear","strokeCap":"round","strokeJoin":"round"},"encoding":{"order":{"field":"i","type":"quantitative"}}},
{"data":{"name":"lines"},"transform":[{"filter":"datum.s==='blue'"}],"mark":{"type":"line","color":"#0000FF","strokeWidth":2},"encoding":{"order":{"field":"i","type":"quantitative"}}},
{"data":{"values":[{"x":116,"y":94.74,"t":"Bankfull Elevation"}]},"mark":{"type":"text","font":"Liberation Serif","fontSize":25,"color":"#000000","align":"center","baseline":"middle"},"encoding":{"text":{"field":"t"}}},
{"data":{"name":"labels"},"mark":{"type":"text","font":"Liberation Serif","fontSize":26,"fontWeight":"bold","align":"center","baseline":"middle"},"encoding":{"text":{"field":"s"},"color":{"field":"s","type":"nominal","legend":null,"scale":{"domain":["1997","2001","2003","2004","2005","2007","2008"],"range":["#000000","#99CC00","#33CCCC","#800080","#339966","#FF0000","#FF00FF"]}}}},
{"data":{"name":"arrows"},"mark":{"type":"rule","color":"#000000","strokeWidth":3.3},"encoding":{"x2":{"field":"tx"},"y2":{"field":"ty"}}},
{"data":{"name":"arrows"},"transform":[{"calculate":"atan2(7.155*(datum.x-datum.tx), 36.31*(datum.y-datum.ty))*180/PI","as":"ang"}],"mark":{"type":"point","shape":"M0,0L0.7,2L-0.7,2Z","filled":true,"color":"#000000","opacity":1,"size":400,"strokeWidth":0},"encoding":{"angle":{"field":"ang","type":"quantitative","scale":null}}}
]
}
